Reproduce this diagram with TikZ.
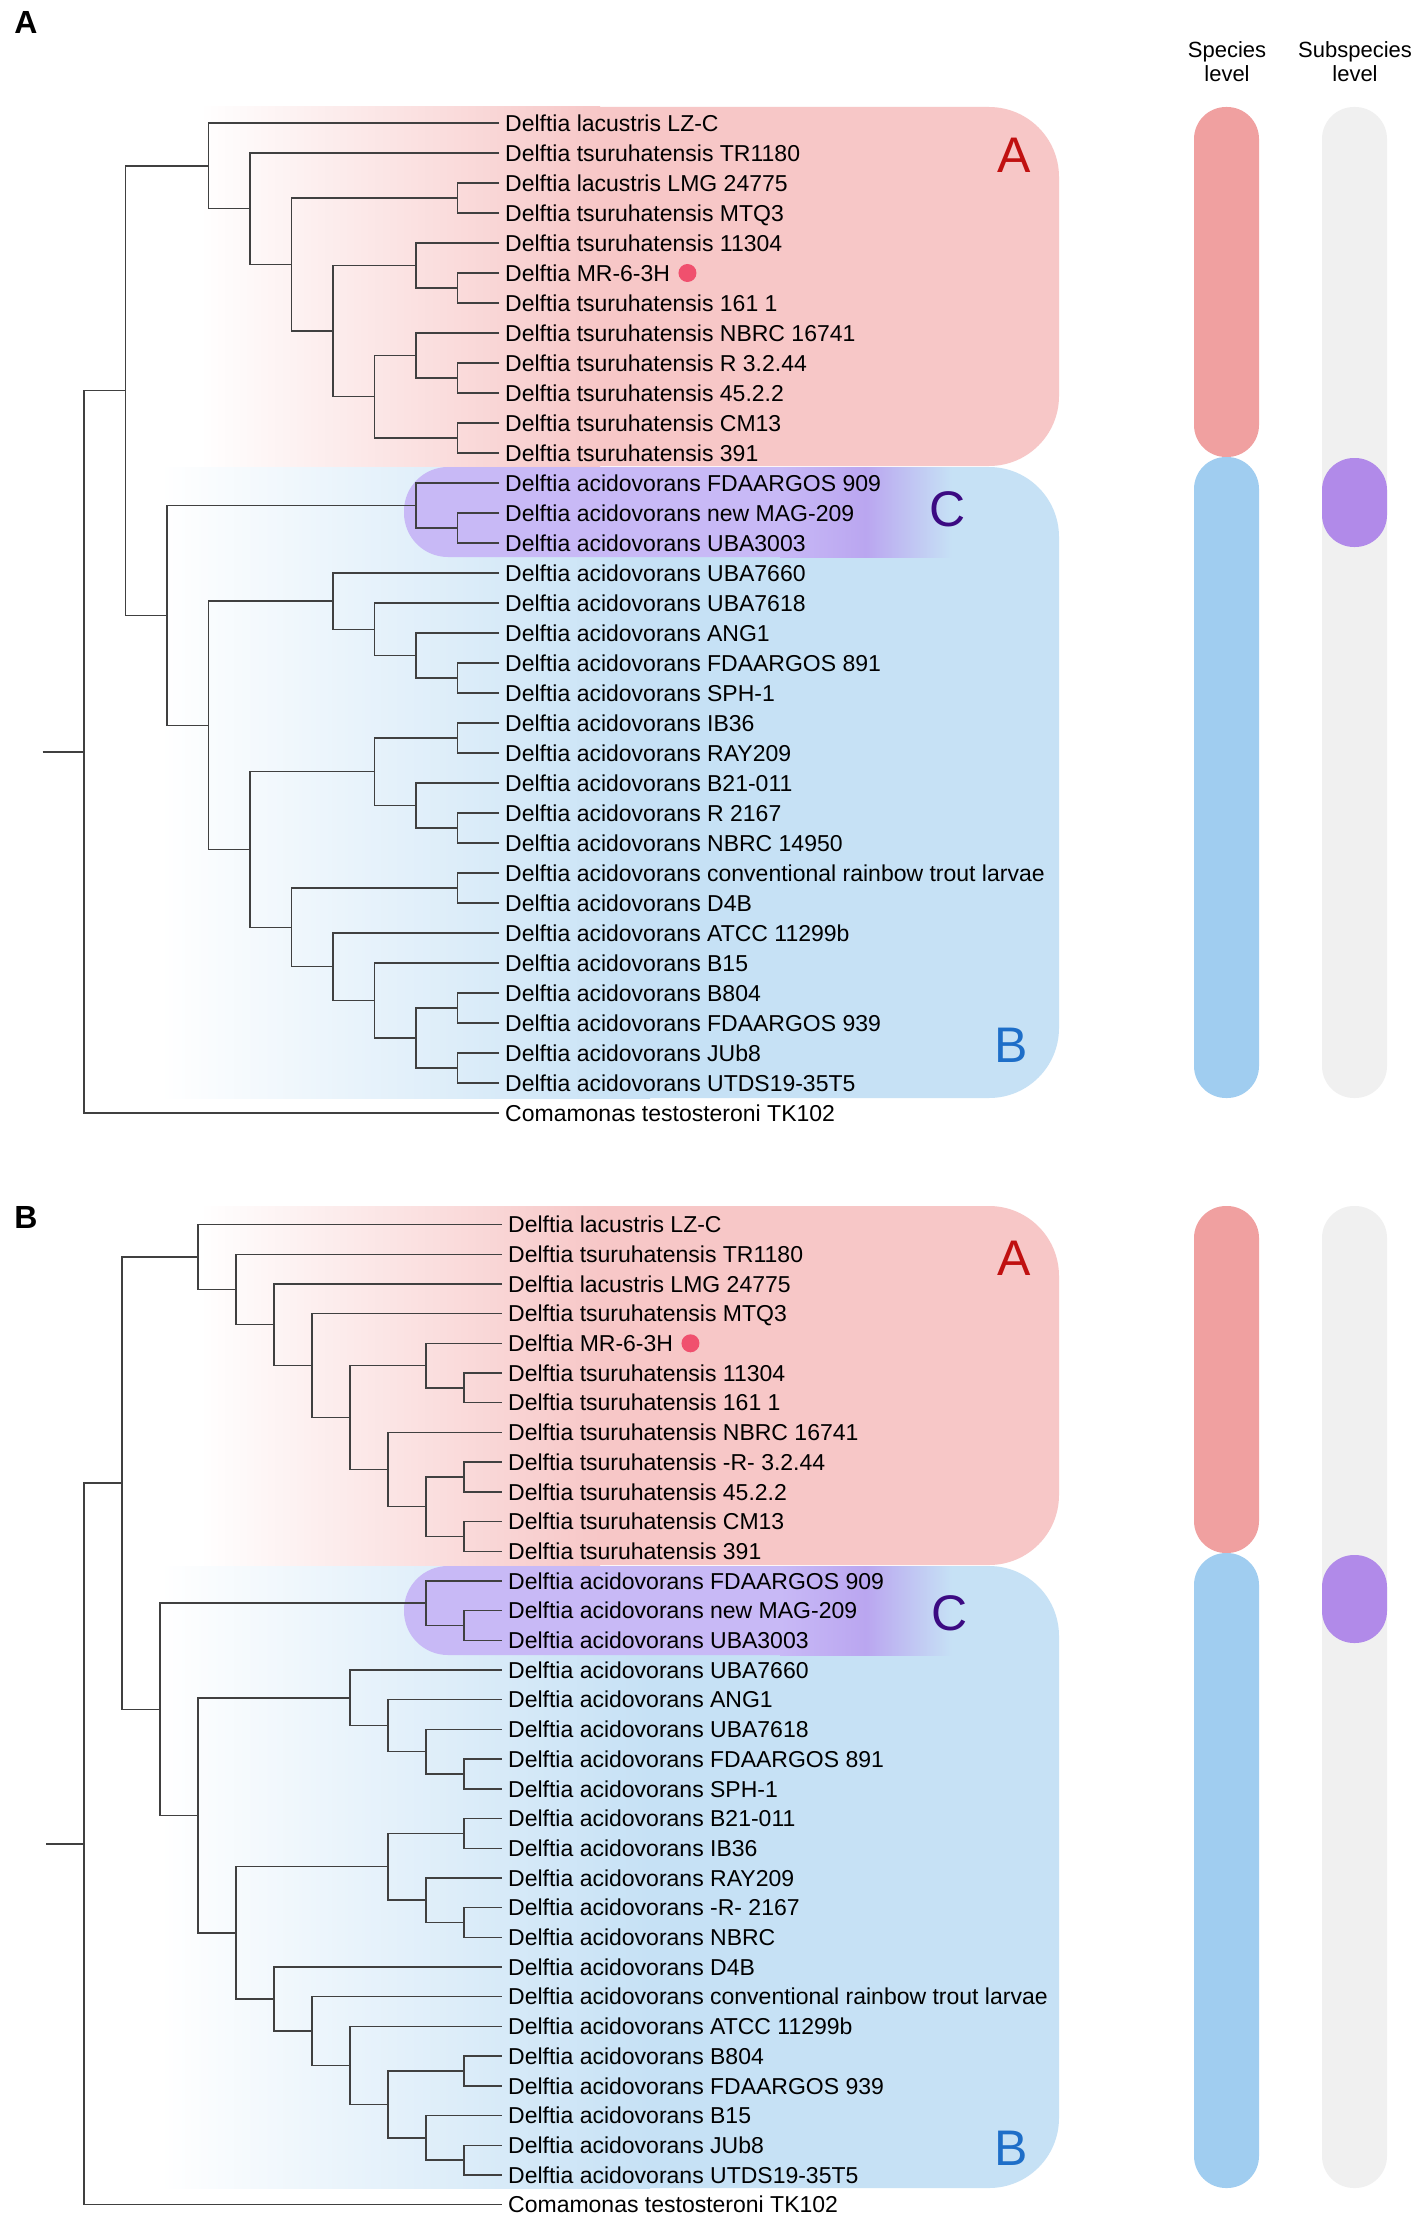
\documentclass[tikz,border=0pt]{standalone}
\usepackage{fontspec}
\setmainfont{Liberation Sans}
\usetikzlibrary{positioning}

\definecolor{boxred}{RGB}{247,199,199}
\definecolor{boxblue}{RGB}{198,225,245}
\definecolor{boxpurple}{RGB}{200,185,246}
\definecolor{deeppurple}{RGB}{186,166,240}
\definecolor{barred}{RGB}{240,160,160}
\definecolor{barblue}{RGB}{160,205,240}
\definecolor{bargray}{RGB}{240,240,240}
\definecolor{barpurple}{RGB}{177,138,233}
\definecolor{cladeA}{RGB}{192,16,16}
\definecolor{cladeB}{RGB}{30,110,200}
\definecolor{cladeC}{RGB}{60,10,130}
\definecolor{mrred}{RGB}{240,80,110}
\definecolor{branchgray}{RGB}{64,64,64}

\tikzset{
    branch/.style={draw=branchgray, line width=1.4pt},
    leaf/.style={anchor=west, inner xsep=6pt, inner ysep=0pt, font=\fontsize{23}{27}\selectfont, text height=16.5pt, text depth=0pt},
    cladeletter/.style={font=\fontsize{50}{60}\selectfont, inner sep=0pt},
    panelletter/.style={font=\fontsize{32}{36}\selectfont\bfseries, inner sep=0pt},
    header/.style={font=\fontsize{22}{24}\selectfont, align=center, inner sep=0pt},
    mrdot/.style={circle, fill=mrred, minimum size=18pt, inner sep=0pt},
}

\begin{document}
\begin{tikzpicture}[x=1pt,y=-1pt]
        \fill[white] (0,0) rectangle (1418,2218);
        \useasboundingbox (0,0) rectangle (1418,2218);

        \node[panelletter] (panA) at (26,22) {A};
        \node[panelletter] (panB) at (26,1217) {B};
        \node[header] (spec) at (1227,62) {Species\\level};
        \node[header] (subspec) at (1355,62) {Subspecies\\level};

        \fill[boxred, rounded corners=70pt] (520,107) rectangle (1059,466);
        \shade[left color=white, right color=boxred] (200,107) rectangle (600,466);
        \fill[boxblue, rounded corners=70pt] (560,467) rectangle (1059,1098);
        \shade[left color=white, right color=boxblue] (160,467) rectangle (650,1098);
        \fill[boxpurple, rounded corners=44pt] (404,467) rectangle (900,557);
        \shade[left color=boxpurple, right color=boxblue, middle color=deeppurple] (780,467) rectangle (952,557);
        \node[cladeletter, text=cladeA] (letA1) at (1014,155) {A};
        \node[cladeletter, text=cladeC] (letC1) at (948,509) {C};
        \node[cladeletter, text=cladeB] (letB1) at (1011,1045) {B};

        \fill[barred, rounded corners=32pt] (1194,107) rectangle (1259,457);
        \fill[barblue, rounded corners=32pt] (1194,457) rectangle (1259,1098);
        \fill[bargray, rounded corners=32pt] (1322,107) rectangle (1387,1098);
        \fill[barpurple, rounded corners=32pt] (1322,458) rectangle (1387,547);

        \fill[boxred, rounded corners=70pt] (520,1206) rectangle (1059,1565);
        \shade[left color=white, right color=boxred] (200,1206) rectangle (600,1565);
        \fill[boxblue, rounded corners=70pt] (560,1566) rectangle (1059,2188);
        \shade[left color=white, right color=boxblue] (160,1566) rectangle (650,2188);
        \fill[boxpurple, rounded corners=44pt] (404,1566) rectangle (900,1655);
        \shade[left color=boxpurple, right color=boxblue, middle color=deeppurple] (780,1566) rectangle (952,1655);
        \node[cladeletter, text=cladeA] (letA2) at (1014,1258) {A};
        \node[cladeletter, text=cladeC] (letC2) at (950,1613) {C};
        \node[cladeletter, text=cladeB] (letB2) at (1011,2148) {B};

        \fill[barred, rounded corners=32pt] (1194,1206) rectangle (1259,1553);
        \fill[barblue, rounded corners=32pt] (1194,1553) rectangle (1259,2188);
        \fill[bargray, rounded corners=32pt] (1322,1206) rectangle (1387,2188);
        \fill[barpurple, rounded corners=32pt] (1322,1555) rectangle (1387,1643);

        \begin{scope}[shift={(84,123)}, x=41.5pt, y=-30pt]
        \node[leaf] (a0) at (10,0) {Delftia lacustris LZ-C};
        \node[leaf] (a1) at (10,1) {Delftia tsuruhatensis TR1180};
        \node[leaf] (a2) at (10,2) {Delftia lacustris LMG 24775};
        \node[leaf] (a3) at (10,3) {Delftia tsuruhatensis MTQ3};
        \node[leaf] (a4) at (10,4) {Delftia tsuruhatensis 11304};
        \node[leaf] (a5) at (10,5) {Delftia MR-6-3H};
        \node[leaf] (a6) at (10,6) {Delftia tsuruhatensis 161 1};
        \node[leaf] (a7) at (10,7) {Delftia tsuruhatensis NBRC 16741};
        \node[leaf] (a8) at (10,8) {Delftia tsuruhatensis R 3.2.44};
        \node[leaf] (a9) at (10,9) {Delftia tsuruhatensis 45.2.2};
        \node[leaf] (a10) at (10,10) {Delftia tsuruhatensis CM13};
        \node[leaf] (a11) at (10,11) {Delftia tsuruhatensis 391};
        \node[leaf] (a12) at (10,12) {Delftia acidovorans FDAARGOS 909};
        \node[leaf] (a13) at (10,13) {Delftia acidovorans new MAG-209};
        \node[leaf] (a14) at (10,14) {Delftia acidovorans UBA3003};
        \node[leaf] (a15) at (10,15) {Delftia acidovorans UBA7660};
        \node[leaf] (a16) at (10,16) {Delftia acidovorans UBA7618};
        \node[leaf] (a17) at (10,17) {Delftia acidovorans ANG1};
        \node[leaf] (a18) at (10,18) {Delftia acidovorans FDAARGOS 891};
        \node[leaf] (a19) at (10,19) {Delftia acidovorans SPH-1};
        \node[leaf] (a20) at (10,20) {Delftia acidovorans IB36};
        \node[leaf] (a21) at (10,21) {Delftia acidovorans RAY209};
        \node[leaf] (a22) at (10,22) {Delftia acidovorans B21-011};
        \node[leaf] (a23) at (10,23) {Delftia acidovorans R 2167};
        \node[leaf] (a24) at (10,24) {Delftia acidovorans NBRC 14950};
        \node[leaf] (a25) at (10,25) {Delftia acidovorans conventional rainbow trout larvae};
        \node[leaf] (a26) at (10,26) {Delftia acidovorans D4B};
        \node[leaf] (a27) at (10,27) {Delftia acidovorans ATCC 11299b};
        \node[leaf] (a28) at (10,28) {Delftia acidovorans B15};
        \node[leaf] (a29) at (10,29) {Delftia acidovorans B804};
        \node[leaf] (a30) at (10,30) {Delftia acidovorans FDAARGOS 939};
        \node[leaf] (a31) at (10,31) {Delftia acidovorans JUb8};
        \node[leaf] (a32) at (10,32) {Delftia acidovorans UTDS19-35T5};
        \node[leaf] (a33) at (10,33) {Comamonas testosteroni TK102};
        \node[mrdot, right=2pt of a5] (dotA) {};

        \coordinate (ka1) at (9,2.5);
        \coordinate (ka2) at (9,5.5);
        \coordinate (ka3) at (8,4.75);
        \coordinate (ka4) at (9,8.5);
        \coordinate (ka5) at (8,7.75);
        \coordinate (ka6) at (9,10.5);
        \coordinate (ka7) at (7,9.125);
        \coordinate (ka8) at (6,6.9375);
        \coordinate (ka9) at (5,4.71875);
        \coordinate (ka10) at (4,2.859375);
        \coordinate (ka11) at (3,1.4296875);
        \coordinate (kc1) at (9,13.5);
        \coordinate (kc2) at (8,12.75);
        \coordinate (kb1) at (9,18.5);
        \coordinate (kb2) at (8,17.75);
        \coordinate (kb3) at (7,16.875);
        \coordinate (kb4) at (6,15.9375);
        \coordinate (kb5) at (9,20.5);
        \coordinate (kb6) at (9,23.5);
        \coordinate (kb7) at (8,22.75);
        \coordinate (kb8) at (7,21.625);
        \coordinate (kb9) at (9,25.5);
        \coordinate (kb10) at (9,29.5);
        \coordinate (kb11) at (9,31.5);
        \coordinate (kb12) at (8,30.5);
        \coordinate (kb13) at (7,29.25);
        \coordinate (kb14) at (6,28.125);
        \coordinate (kb15) at (5,26.8125);
        \coordinate (kb16) at (4,24.21875);
        \coordinate (kb17) at (3,20.078125);
        \coordinate (kbc) at (2,16.4140625);
        \coordinate (ktop) at (1,8.921875);
        \coordinate (kroot) at (0,20.9609375);
        \coordinate (kstub) at (-1,20.9609375);

        \draw[branch] (ka1) |- (a2) (ka1) |- (a3);
        \draw[branch] (ka2) |- (a5) (ka2) |- (a6);
        \draw[branch] (ka3) |- (a4) (ka3) |- (ka2);
        \draw[branch] (ka4) |- (a8) (ka4) |- (a9);
        \draw[branch] (ka5) |- (a7) (ka5) |- (ka4);
        \draw[branch] (ka6) |- (a10) (ka6) |- (a11);
        \draw[branch] (ka7) |- (ka5) (ka7) |- (ka6);
        \draw[branch] (ka8) |- (ka3) (ka8) |- (ka7);
        \draw[branch] (ka9) |- (ka1) (ka9) |- (ka8);
        \draw[branch] (ka10) |- (a1) (ka10) |- (ka9);
        \draw[branch] (ka11) |- (a0) (ka11) |- (ka10);
        \draw[branch] (kc1) |- (a13) (kc1) |- (a14);
        \draw[branch] (kc2) |- (a12) (kc2) |- (kc1);
        \draw[branch] (kb1) |- (a18) (kb1) |- (a19);
        \draw[branch] (kb2) |- (a17) (kb2) |- (kb1);
        \draw[branch] (kb3) |- (a16) (kb3) |- (kb2);
        \draw[branch] (kb4) |- (a15) (kb4) |- (kb3);
        \draw[branch] (kb5) |- (a20) (kb5) |- (a21);
        \draw[branch] (kb6) |- (a23) (kb6) |- (a24);
        \draw[branch] (kb7) |- (a22) (kb7) |- (kb6);
        \draw[branch] (kb8) |- (kb5) (kb8) |- (kb7);
        \draw[branch] (kb9) |- (a25) (kb9) |- (a26);
        \draw[branch] (kb10) |- (a29) (kb10) |- (a30);
        \draw[branch] (kb11) |- (a31) (kb11) |- (a32);
        \draw[branch] (kb12) |- (kb10) (kb12) |- (kb11);
        \draw[branch] (kb13) |- (a28) (kb13) |- (kb12);
        \draw[branch] (kb14) |- (a27) (kb14) |- (kb13);
        \draw[branch] (kb15) |- (kb9) (kb15) |- (kb14);
        \draw[branch] (kb16) |- (kb8) (kb16) |- (kb15);
        \draw[branch] (kb17) |- (kb4) (kb17) |- (kb16);
        \draw[branch] (kbc) |- (kc2) (kbc) |- (kb17);
        \draw[branch] (ktop) |- (ka11) (ktop) |- (kbc);
        \draw[branch] (kroot) |- (ktop) (kroot) |- (a33);
        \draw[branch] (kstub) -- (kroot);
        \end{scope}

        \begin{scope}[shift={(84,1224.5)}, x=38pt, y=-29.7pt]
        \node[leaf] (b0) at (11,0) {Delftia lacustris LZ-C};
        \node[leaf] (b1) at (11,1) {Delftia tsuruhatensis TR1180};
        \node[leaf] (b2) at (11,2) {Delftia lacustris LMG 24775};
        \node[leaf] (b3) at (11,3) {Delftia tsuruhatensis MTQ3};
        \node[leaf] (b4) at (11,4) {Delftia MR-6-3H};
        \node[leaf] (b5) at (11,5) {Delftia tsuruhatensis 11304};
        \node[leaf] (b6) at (11,6) {Delftia tsuruhatensis 161 1};
        \node[leaf] (b7) at (11,7) {Delftia tsuruhatensis NBRC 16741};
        \node[leaf] (b8) at (11,8) {Delftia tsuruhatensis -R- 3.2.44};
        \node[leaf] (b9) at (11,9) {Delftia tsuruhatensis 45.2.2};
        \node[leaf] (b10) at (11,10) {Delftia tsuruhatensis CM13};
        \node[leaf] (b11) at (11,11) {Delftia tsuruhatensis 391};
        \node[leaf] (b12) at (11,12) {Delftia acidovorans FDAARGOS 909};
        \node[leaf] (b13) at (11,13) {Delftia acidovorans new MAG-209};
        \node[leaf] (b14) at (11,14) {Delftia acidovorans UBA3003};
        \node[leaf] (b15) at (11,15) {Delftia acidovorans UBA7660};
        \node[leaf] (b16) at (11,16) {Delftia acidovorans ANG1};
        \node[leaf] (b17) at (11,17) {Delftia acidovorans UBA7618};
        \node[leaf] (b18) at (11,18) {Delftia acidovorans FDAARGOS 891};
        \node[leaf] (b19) at (11,19) {Delftia acidovorans SPH-1};
        \node[leaf] (b20) at (11,20) {Delftia acidovorans B21-011};
        \node[leaf] (b21) at (11,21) {Delftia acidovorans IB36};
        \node[leaf] (b22) at (11,22) {Delftia acidovorans RAY209};
        \node[leaf] (b23) at (11,23) {Delftia acidovorans -R- 2167};
        \node[leaf] (b24) at (11,24) {Delftia acidovorans NBRC};
        \node[leaf] (b25) at (11,25) {Delftia acidovorans D4B};
        \node[leaf] (b26) at (11,26) {Delftia acidovorans conventional rainbow trout larvae};
        \node[leaf] (b27) at (11,27) {Delftia acidovorans ATCC 11299b};
        \node[leaf] (b28) at (11,28) {Delftia acidovorans B804};
        \node[leaf] (b29) at (11,29) {Delftia acidovorans FDAARGOS 939};
        \node[leaf] (b30) at (11,30) {Delftia acidovorans B15};
        \node[leaf] (b31) at (11,31) {Delftia acidovorans JUb8};
        \node[leaf] (b32) at (11,32) {Delftia acidovorans UTDS19-35T5};
        \node[leaf] (b33) at (11,33) {Comamonas testosteroni TK102};
        \node[mrdot, right=2pt of b4] (dotB) {};

        \coordinate (ma1) at (10,5.5);
        \coordinate (ma2) at (9,4.75);
        \coordinate (ma3) at (10,8.5);
        \coordinate (ma4) at (10,10.5);
        \coordinate (ma5) at (9,9.5);
        \coordinate (ma6) at (8,8.25);
        \coordinate (ma7) at (7,6.5);
        \coordinate (ma8) at (6,4.75);
        \coordinate (ma9) at (5,3.375);
        \coordinate (ma10) at (4,2.1875);
        \coordinate (ma11) at (3,1.09375);
        \coordinate (mc1) at (10,13.5);
        \coordinate (mc2) at (9,12.75);
        \coordinate (mb1) at (10,18.5);
        \coordinate (mb2) at (9,17.75);
        \coordinate (mb3) at (8,16.875);
        \coordinate (mb4) at (7,15.9375);
        \coordinate (mb5) at (10,20.5);
        \coordinate (mb6) at (10,23.5);
        \coordinate (mb7) at (9,22.75);
        \coordinate (mb8) at (8,21.625);
        \coordinate (mb9) at (10,28.5);
        \coordinate (mb10) at (10,31.5);
        \coordinate (mb11) at (9,30.75);
        \coordinate (mb12) at (8,29.625);
        \coordinate (mb13) at (7,28.3125);
        \coordinate (mb14) at (6,27.15625);
        \coordinate (mb15) at (5,26.078125);
        \coordinate (mb16) at (4,23.8515625);
        \coordinate (mb17) at (3,19.89453125);
        \coordinate (mbc) at (2,16.322265625);
        \coordinate (mtop) at (1,8.7080078125);
        \coordinate (mroot) at (0,20.854);
        \coordinate (mstub) at (-1,20.854);

        \draw[branch] (ma1) |- (b5) (ma1) |- (b6);
        \draw[branch] (ma2) |- (b4) (ma2) |- (ma1);
        \draw[branch] (ma3) |- (b8) (ma3) |- (b9);
        \draw[branch] (ma4) |- (b10) (ma4) |- (b11);
        \draw[branch] (ma5) |- (ma3) (ma5) |- (ma4);
        \draw[branch] (ma6) |- (b7) (ma6) |- (ma5);
        \draw[branch] (ma7) |- (ma2) (ma7) |- (ma6);
        \draw[branch] (ma8) |- (b3) (ma8) |- (ma7);
        \draw[branch] (ma9) |- (b2) (ma9) |- (ma8);
        \draw[branch] (ma10) |- (b1) (ma10) |- (ma9);
        \draw[branch] (ma11) |- (b0) (ma11) |- (ma10);
        \draw[branch] (mc1) |- (b13) (mc1) |- (b14);
        \draw[branch] (mc2) |- (b12) (mc2) |- (mc1);
        \draw[branch] (mb1) |- (b18) (mb1) |- (b19);
        \draw[branch] (mb2) |- (b17) (mb2) |- (mb1);
        \draw[branch] (mb3) |- (b16) (mb3) |- (mb2);
        \draw[branch] (mb4) |- (b15) (mb4) |- (mb3);
        \draw[branch] (mb5) |- (b20) (mb5) |- (b21);
        \draw[branch] (mb6) |- (b23) (mb6) |- (b24);
        \draw[branch] (mb7) |- (b22) (mb7) |- (mb6);
        \draw[branch] (mb8) |- (mb5) (mb8) |- (mb7);
        \draw[branch] (mb9) |- (b28) (mb9) |- (b29);
        \draw[branch] (mb10) |- (b31) (mb10) |- (b32);
        \draw[branch] (mb11) |- (b30) (mb11) |- (mb10);
        \draw[branch] (mb12) |- (mb9) (mb12) |- (mb11);
        \draw[branch] (mb13) |- (b27) (mb13) |- (mb12);
        \draw[branch] (mb14) |- (b26) (mb14) |- (mb13);
        \draw[branch] (mb15) |- (b25) (mb15) |- (mb14);
        \draw[branch] (mb16) |- (mb8) (mb16) |- (mb15);
        \draw[branch] (mb17) |- (mb4) (mb17) |- (mb16);
        \draw[branch] (mbc) |- (mc2) (mbc) |- (mb17);
        \draw[branch] (mtop) |- (ma11) (mtop) |- (mbc);
        \draw[branch] (mroot) |- (mtop) (mroot) |- (b33);
        \draw[branch] (mstub) -- (mroot);
        \end{scope}
\end{tikzpicture}
\end{document}
